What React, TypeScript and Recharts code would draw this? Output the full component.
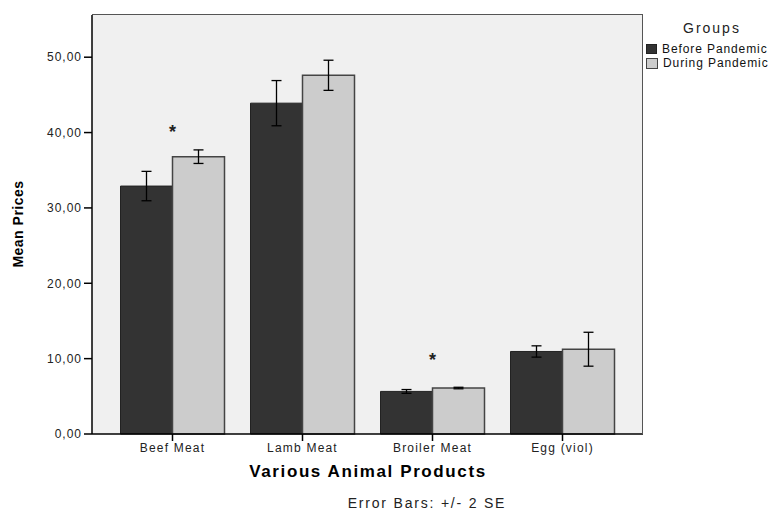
import React from "react"
import { BarChart, Bar, XAxis, YAxis, CartesianGrid, ErrorBar, ReferenceDot } from "recharts"

const categories = ["Beef Meat", "Lamb Meat", "Broiler Meat", "Egg (viol)"]
const beforeMeans = [32.9, 43.9, 5.65, 10.95]
const duringMeans = [36.8, 47.6, 6.1, 11.25]
const beforeErr = [1.95, 3.0, 0.25, 0.75]
const duringErr = [0.9, 2.0, 0.1, 2.25]
const yTicks = [0, 10, 20, 30, 40, 50]
const starMarks = [
  { category: "Beef Meat", value: 40.4 },
  { category: "Broiler Meat", value: 10.1 },
]

const data = categories.map((c, i) => ({
  name: c,
  before: beforeMeans[i],
  during: duringMeans[i],
  beforeErr: beforeErr[i],
  duringErr: duringErr[i],
}))

const font = "'Liberation Sans', Arial, sans-serif"
const fmt = (v: number) => v.toFixed(2).replace(".", ",")

export default function App() {
  return (
    <div style={{ position: "fixed", left: 0, top: 0, width: 778, height: 511, background: "#fff", fontFamily: font }}>
      <BarChart
        width={778}
        height={511}
        data={data}
        margin={{ top: 15, right: 135, bottom: 47, left: 22 }}
        barCategoryGap="10%"
        barGap={0}
      >
        <CartesianGrid horizontal={false} vertical={false} fill="#f0f0f0" />
        <XAxis
          dataKey="name"
          padding={{ left: 15.5, right: 15.5 }}
          height={30}
          axisLine={{ stroke: "#000", strokeWidth: 1.5 }}
          tickLine={{ stroke: "#000", strokeWidth: 1.5 }}
          tickSize={7}
          tick={{ fill: "#222", fontSize: 12, fontFamily: font, letterSpacing: 1.2 }}
        />
        <YAxis
          width={70}
          domain={[0, 55.6]}
          ticks={yTicks}
          tickFormatter={fmt}
          axisLine={{ stroke: "#000", strokeWidth: 1.5 }}
          tickLine={{ stroke: "#000", strokeWidth: 1.5 }}
          tickSize={8}
          tick={{ fill: "#222", fontSize: 12, fontFamily: font, letterSpacing: 1 }}
        />
        <Bar dataKey="before" fill="#333333" stroke="#222" strokeWidth={1} isAnimationActive={false}>
          <ErrorBar dataKey="beforeErr" width={5} stroke="#000" strokeWidth={1.3} />
        </Bar>
        <Bar dataKey="during" fill="#cccccc" stroke="#444" strokeWidth={1.5} isAnimationActive={false}>
          <ErrorBar dataKey="duringErr" width={5} stroke="#000" strokeWidth={1.3} />
        </Bar>
        {starMarks.map((s) => (
          <ReferenceDot
            key={s.category}
            x={s.category}
            y={s.value}
            r={0}
            fill="none"
            stroke="none"
            label={{ value: "*", position: "center", fontSize: 18, fontWeight: "bold", fill: "#222", dy: 2 }}
          />
        ))}
      </BarChart>
      {/* plot frame, top and right edges */}
      <div style={{ position: "absolute", left: 92, top: 14, width: 551, height: 420, borderTop: "1.5px solid #555", borderRight: "1.5px solid #555", boxSizing: "border-box", pointerEvents: "none" }} />
      <div style={{ position: "absolute", left: 18, top: 224, transform: "translate(-50%, -50%) rotate(-90deg)", fontSize: 14, fontWeight: "bold", whiteSpace: "nowrap", color: "#000", letterSpacing: 0.5 }}>
        Mean Prices
      </div>
      <div style={{ position: "absolute", left: 368, top: 472, transform: "translate(-50%, -50%)", fontSize: 17, fontWeight: "bold", whiteSpace: "nowrap", color: "#000", letterSpacing: 1.6 }}>
        Various Animal Products
      </div>
      <div style={{ position: "absolute", left: 427, top: 503, transform: "translate(-50%, -50%)", fontSize: 14, whiteSpace: "nowrap", color: "#222", letterSpacing: 1.8 }}>
        Error Bars: +/- 2 SE
      </div>
      <div style={{ position: "absolute", left: 683, top: 20, fontSize: 14, color: "#222", letterSpacing: 2 }}>Groups</div>
      <div style={{ position: "absolute", left: 646, top: 42, fontSize: 12, color: "#111", lineHeight: "14px", letterSpacing: 0.9 }}>
        <div style={{ display: "flex", alignItems: "center" }}>
          <span style={{ width: 9, height: 8, background: "#333", border: "1px solid #222", marginRight: 5, display: "inline-block" }} />
          Before Pandemic
        </div>
        <div style={{ display: "flex", alignItems: "center" }}>
          <span style={{ width: 10, height: 9, background: "#ccc", border: "1px solid #444", marginRight: 5, display: "inline-block" }} />
          During Pandemic
        </div>
      </div>
    </div>
  )
}
